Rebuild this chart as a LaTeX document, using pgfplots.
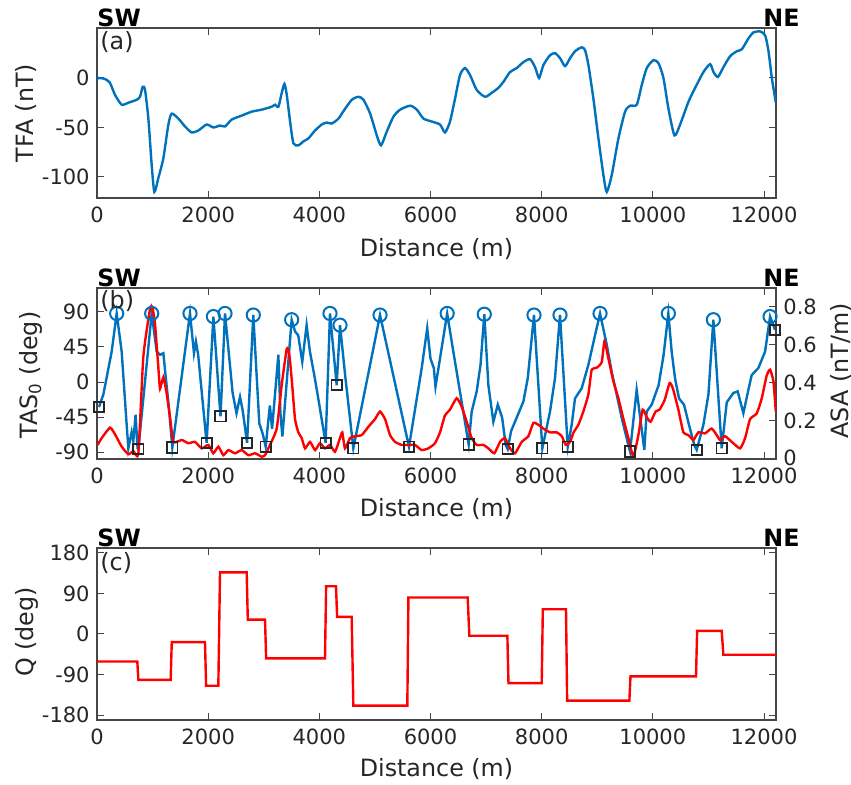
\documentclass[border=0pt]{standalone}
\usepackage{fontspec}
\setmainfont{DejaVu Sans}
\usepackage{pgfplots}
\pgfplotsset{compat=1.18}
\definecolor{mblue}{RGB}{0,114,189}
\definecolor{axgray}{RGB}{70,70,70}
\pgfplotsset{
  mystyle/.style={
    scale only axis, width=339.5pt, anchor=south west,
    xmin=0, xmax=12216,
    xtick={0,2000,4000,6000,8000,10000,12000},
    xticklabels={0,2000,4000,6000,8000,10000,12000},
    tick align=inside,
    major tick length=3.5pt,
    every tick/.style={axgray, line width=0.5pt},
    axis line style={axgray, line width=0.6pt},
    tick label style={font=\fontsize{10.5}{12}\selectfont, text=black!85, inner sep=0pt},
    xticklabel style={anchor=base, yshift=-12.5pt},
    yticklabel style={xshift=-3.5pt},
    scaled ticks=false,
  }
}
\begin{document}
\begin{tikzpicture}
\path[use as bounding box] (0,0) rectangle (425.5pt,392.5pt);
% ---------------- (a)
\begin{axis}[mystyle, at={(48.5pt,293.5pt)}, height=85pt,
  ymin=-121.2, ymax=50.5, ytick={-100,-50,0}, yticklabels={-100,-50,0}]
\addplot[mblue, line width=1.2pt, smooth, tension=0.4] coordinates {
(0,-2)(23,0)(144,-1)(234,-5)(324,-17)(444,-27)(563,-25)(714,-22)(774,-19)(822,-9)(864,-12)
(924,-41)(984,-88)(1032,-115)(1104,-101)(1194,-81)(1284,-47)(1344,-36)(1464,-41)(1584,-49)
(1704,-55)(1824,-53)(1974,-47)(2094,-50)(2214,-48)(2304,-49)(2424,-42)(2604,-38)(2784,-34)
(2964,-32)(3144,-29)(3204,-27)(3264,-29)(3324,-15)(3372,-6)(3414,-17)(3474,-44)(3534,-66)
(3624,-68)(3714,-64)(3804,-61)(3924,-53)(4044,-47)(4134,-45)(4224,-46)(4344,-41)(4464,-31)
(4584,-22)(4704,-19)(4794,-22)(4914,-36)(5034,-58)(5110,-68)(5214,-54)(5334,-39)(5454,-32)
(5634,-28)(5754,-32)(5874,-41)(6024,-44)(6171,-47)(6261,-55)(6351,-44)(6441,-21)(6531,3)
(6621,10)(6711,3)(6831,-12)(6981,-19)(7101,-15)(7221,-10)(7311,-4)(7431,6)(7551,10)(7671,16)
(7791,19)(7881,11)(7953,0)(8031,13)(8151,23)(8241,25)(8331,20)(8421,12)(8511,20)(8601,27)
(8721,31)(8781,28)(8841,13)(8931,-21)(9021,-61)(9111,-98)(9171,-115)(9261,-98)(9381,-61)
(9501,-34)(9591,-28)(9711,-27)(9801,-7)(9891,10)(10011,18)(10101,15)(10191,0)(10281,-31)
(10389,-58)(10491,-47)(10641,-24)(10761,-10)(10911,6)(11031,14)(11091,6)(11170,1)(11271,11)
(11391,22)(11511,27)(11601,29)(11721,40)(11811,46)(11931,47)(12021,43)(12081,27)(12141,0)
(12213,-25)};
\end{axis}
% ---------------- (b) left axis: TAS0 line
\begin{axis}[mystyle, at={(48.5pt,163pt)}, height=85.5pt,
  ymin=-98.7, ymax=120.7, ytick={-90,-45,0,45,90}, yticklabels={-90,-45,0,45,90},
  ytick pos=left]
\addplot[mblue, line width=1.2pt] coordinates {
(36,-32)(114,-16)(264,39)(354,88)(444,39)(534,-55)(564,-85)(624,-64)(654,-76)(694,-42)(730,-85)
(744,-86)(984,88)(1074,39)(1134,35)(1194,37)(1224,15)(1290,-30)(1355,-84)(1673,88)(1745,37)
(1780,52)(1820,35)(1972,-78)(2094,84)(2222,-44)(2303,88)(2440,-14)(2510,-40)(2573,-19)
(2620,-36)(2700,-78)(2812,86)(2920,-53)(2980,-66)(3035,-83)(3110,-30)(3150,-60)(3263,35)
(3300,-40)(3335,-70)(3502,80)(3563,65)(3620,60)(3693,26)(3771,73)(3831,39)(3909,9)(3969,-16)
(4113,-78)(4192,88)(4312,-4)(4372,73)(4470,5)(4612,-85)(5092,86)(5613,-83)(5842,18)(5941,69)
(6000,30)(6060,18)(6090,-6)(6300,88)(6411,39)(6687,-80)(6741,-38)(6831,-12)(6900,22)(6968,87)
(7041,-4)(7131,-51)(7211,-29)(7290,-46)(7353,-81)(7389,-86)(7450,-63)(7671,-25)(7750,5)
(7862,86)(8012,-85)(8150,-38)(8240,5)(8330,86)(8469,-83)(8540,-55)(8600,-21)(8720,-8)(8840,22)
(8960,60)(9050,88)(9171,48)(9260,13)(9350,-16)(9440,-46)(9560,-81)(9590,-89)(9709,-10)
(9847,-87)(9889,-38)(9979,-29)(10104,-4)(10194,35)(10279,88)(10339,39)(10399,5)(10471,-21)
(10561,-29)(10651,-55)(10747,-81)(10789,-87)(10909,-55)(11000,-16)(11089,80)(11239,-85)
(11330,-26)(11449,-14)(11527,-12)(11629,-40)(11719,-10)(11779,9)(11899,18)(12019,39)
(12109,84)(12199,67)};
\end{axis}
% ---------------- (b) right axis: ASA
\begin{axis}[mystyle, at={(48.5pt,163pt)}, height=85.5pt,
  axis x line=none, axis y line*=right,
  ymin=0, ymax=0.9, ytick={0,0.2,0.4,0.6,0.8},
  yticklabels={\raisebox{1.5pt}{0},0.2,0.4,0.6,0.8},
  ytick pos=right, yticklabel style={xshift=7pt}]
\addplot[red, line width=1.2pt, smooth, tension=0.3] coordinates {
(12,0.074)(84,0.11)(234,0.165)(324,0.13)(444,0.065)(564,0.025)(654,0.042)(744,0.03)(834,0.54)
(954,0.79)(996,0.80)(1044,0.71)(1104,0.48)(1134,0.37)(1194,0.43)(1250,0.35)(1314,0.22)
(1374,0.09)(1524,0.10)(1644,0.083)(1763,0.09)(1883,0.056)(2003,0.074)(2093,0.03)(2183,0.065)
(2273,0.02)(2363,0.047)(2483,0.03)(2603,0.047)(2723,0.02)(2843,0.03)(2963,0.012)(3023,0.02)
(3083,0.056)(3233,0.16)(3323,0.39)(3414,0.58)(3460,0.55)(3503,0.42)(3563,0.21)(3623,0.14)
(3683,0.11)(3743,0.056)(3833,0.09)(3923,0.047)(4012,0.083)(4102,0.056)(4192,0.074)(4282,0.038)
(4372,0.11)(4413,0.14)(4462,0.056)(4552,0.11)(4642,0.12)(4763,0.126)(4883,0.17)(5002,0.21)
(5092,0.25)(5182,0.21)(5272,0.126)(5362,0.09)(5482,0.074)(5601,0.074)(5721,0.074)(5841,0.047)
(5961,0.056)(6081,0.083)(6171,0.14)(6261,0.23)(6351,0.26)(6471,0.32)(6561,0.275)(6651,0.196)
(6741,0.11)(6831,0.074)(6951,0.074)(7041,0.056)(7149,0.03)(7251,0.09)(7341,0.11)(7431,0.056)
(7521,0.03)(7641,0.09)(7761,0.12)(7851,0.19)(7941,0.18)(8031,0.16)(8151,0.14)(8271,0.14)
(8361,0.12)(8433,0.074)(8511,0.09)(8574,0.14)(8660,0.18)(8750,0.25)(8840,0.34)(8900,0.47)
(8990,0.48)(9081,0.51)(9130,0.62)(9200,0.53)(9290,0.41)(9380,0.32)(9471,0.21)(9560,0.11)
(9650,0.012)(9740,0.126)(9817,0.26)(9890,0.22)(9960,0.196)(10050,0.25)(10122,0.26)(10212,0.31)
(10302,0.40)(10362,0.37)(10459,0.26)(10549,0.14)(10639,0.126)(10729,0.10)(10819,0.14)
(10939,0.135)(11059,0.16)(11149,0.126)(11209,0.10)(11299,0.12)(11420,0.09)(11570,0.056)
(11660,0.11)(11750,0.21)(11870,0.24)(11960,0.32)(12049,0.44)(12109,0.47)(12169,0.41)(12212,0.25)};
\end{axis}
% ---------------- (b) markers on left axis
\begin{axis}[mystyle, at={(48.5pt,163pt)}, height=85.5pt, hide axis,
  ymin=-98.7, ymax=120.7, clip=false]
\addplot[only marks, mark=o, mark size=3.3pt, mark options={draw=mblue, line width=1pt}] coordinates {
(354,88)(984,88)(1673,88)(2094,84)(2303,88)(2812,86)(3502,80)(4192,88)(4372,73)(5092,86)
(6300,88)(6968,87)(7862,86)(8330,86)(9050,88)(10279,88)(11089,80)(12109,84)};
\addplot[only marks, mark=square, mark size=2.6pt, mark options={draw=black!85, line width=0.9pt}] coordinates {
(36,-32)(744,-86)(1355,-84)(1972,-78)(2222,-44)(2700,-78)(3035,-83)(4113,-78)(4312,-4)(4612,-85)
(5613,-83)(6687,-80)(7389,-86)(8012,-85)(8469,-83)(9590,-89)(10789,-87)(11239,-85)(12199,67)};
\end{axis}
% ---------------- (c)
\begin{axis}[mystyle, at={(48.5pt,32.5pt)}, height=86pt,
  ymin=-191, ymax=191, ytick={-180,-90,0,90,180}, yticklabels={-180,-90,0,90,180}]
\addplot[red, line width=1.2pt] coordinates {
(0,-61)(725,-61)(745,-102)(1325,-102)(1345,-18)(1943,-18)(1963,-115)(2183,-115)(2213,137)
(2693,137)(2713,32)(3023,32)(3043,-54)(4102,-54)(4122,106)(4300,106)(4320,38)(4582,38)
(4612,-159)(5583,-159)(5603,81)(6669,81)(6699,-4)(7383,-4)(7403,-109)(8001,-109)(8021,55)
(8438,55)(8458,-148)(9578,-148)(9598,-94)(10777,-94)(10797,7)(11239,7)(11269,-46)(12220,-46)};
\end{axis}
% ---------------- texts
\tikzset{lab/.style={inner sep=0pt, font=\fontsize{11.9}{14}\selectfont, text=black!85},
         bl/.style={inner sep=0pt, font=\bfseries\fontsize{11.9}{14}\selectfont, anchor=base west}}
\node[bl] at (48.5pt,379pt) {SW};
\node[bl] at (381.5pt,379pt) {NE};
\node[bl] at (48.5pt,249pt) {SW};
\node[bl] at (381.5pt,249pt) {NE};
\node[bl] at (48.5pt,119.25pt) {SW};
\node[bl] at (381.5pt,119.25pt) {NE};
\node[lab, anchor=base west] at (50pt,367.5pt) {(a)};
\node[lab, anchor=base west] at (50pt,238pt) {(b)};
\node[lab, anchor=base west] at (50pt,107pt) {(c)};
\node[lab, anchor=base] at (218.25pt,264pt) {Distance (m)};
\node[lab, anchor=base] at (218.25pt,134pt) {Distance (m)};
\node[lab, anchor=base] at (218.25pt,4pt) {Distance (m)};
\node[lab, anchor=base, rotate=90] at (16.5pt,336pt) {TFA (nT)};
\node[lab, anchor=base, rotate=90] at (18.5pt,205pt) {TAS\textsubscript{0} (deg)};
\node[lab, anchor=base, rotate=90] at (16.5pt,76.5pt) {Q (deg)};
\node[lab, anchor=base, rotate=90] at (424pt,207pt) {ASA (nT/m)};
\end{tikzpicture}
\end{document}
